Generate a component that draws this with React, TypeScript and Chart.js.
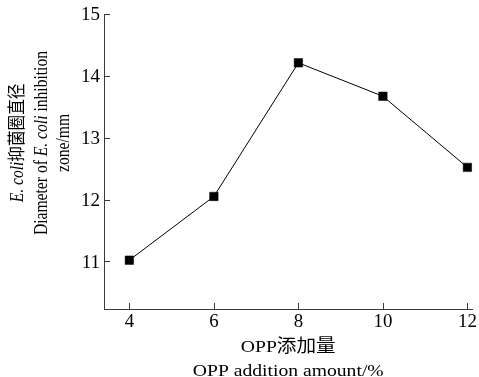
import React, { useEffect, useRef } from "react";
import { Chart, registerables } from "chart.js";

Chart.register(...registerables);

const additionAmounts = [4, 6, 8, 10, 12];
const inhibitionDiameters = [11.02, 12.05, 14.21, 13.67, 12.52];
const xTickValues = [4, 6, 8, 10, 12];
const yTickValues = [11, 12, 13, 14, 15];

const xTitleLines = ["OPP添加量", "OPP addition amount/%"];
type Seg = { t: string; i?: boolean };
const yTitleLines: Seg[][] = [
  [{ t: "E. coli", i: true }, { t: "抑菌圈直径" }],
  [{ t: "Diameter of " }, { t: "E. coli", i: true }, { t: " inhibition" }],
  [{ t: "zone/mm" }],
];

const FAM = '"Liberation Serif", "Noto Sans CJK SC", serif';
const AXIS_COLOR = "#3a3a3a";

function drawStretched(
  ctx: CanvasRenderingContext2D,
  text: string,
  x: number,
  y: number,
  font: string,
  align: CanvasTextAlign,
  sx: number
) {
  ctx.save();
  ctx.font = font;
  ctx.textAlign = align;
  ctx.textBaseline = "alphabetic";
  ctx.translate(x, y);
  ctx.scale(sx, 1);
  ctx.fillText(text, 0, 0);
  ctx.restore();
}

const customPlugin = {
  id: "customAxes",
  afterDraw(chart: any) {
    const ctx = chart.ctx as CanvasRenderingContext2D;
    const area = chart.chartArea;
    const xs = chart.scales.x;
    const ys = chart.scales.y;
    ctx.save();
    // inward ticks
    ctx.strokeStyle = AXIS_COLOR;
    ctx.lineWidth = 1;
    ctx.beginPath();
    xTickValues.forEach((v) => {
      const px = Math.round(xs.getPixelForValue(v)) + 0.5;
      ctx.moveTo(px, area.bottom);
      ctx.lineTo(px, area.bottom - 6);
    });
    yTickValues.forEach((v) => {
      const py = Math.round(ys.getPixelForValue(v)) + 0.5;
      ctx.moveTo(area.left, py);
      ctx.lineTo(area.left + 6, py);
    });
    ctx.stroke();

    ctx.fillStyle = "#000";

    // x tick labels
    xTickValues.forEach((v) => {
      drawStretched(ctx, String(v), xs.getPixelForValue(v), 327, `18px ${FAM}`, "center", 1.05);
    });
    // y tick labels
    yTickValues.forEach((v) => {
      drawStretched(ctx, String(v), area.left - 4, ys.getPixelForValue(v) + 6.3, `19px ${FAM}`, "right", 1.0);
    });

    // x title
    const cx = (area.left + area.right) / 2;
    drawStretched(ctx, xTitleLines[0], cx, 352, `17.7px ${FAM}`, "center", 1.11);
    drawStretched(ctx, xTitleLines[1], cx, 375.5, `17.7px ${FAM}`, "center", 1.11);

    // y title (rotated)
    const baselines = [22.5, 46.5, 68.5];
    const cy = 143;
    const ySx = 1.15;
    yTitleLines.forEach((segs, idx) => {
      const fontOf = (s: Seg) => `${s.i ? "italic " : ""}15.6px ${FAM}`;
      let total = 0;
      segs.forEach((s) => {
        ctx.font = fontOf(s);
        total += ctx.measureText(s.t).width;
      });
      ctx.save();
      ctx.translate(baselines[idx], cy);
      ctx.rotate(-Math.PI / 2);
      ctx.scale(1, ySx);
      ctx.textAlign = "left";
      ctx.textBaseline = "alphabetic";
      let u = -total / 2;
      segs.forEach((s) => {
        ctx.font = fontOf(s);
        ctx.fillText(s.t, u, 0);
        u += ctx.measureText(s.t).width;
      });
      ctx.restore();
    });
    ctx.restore();
  },
};

export default function App() {
  const canvasRef = useRef<HTMLCanvasElement | null>(null);

  useEffect(() => {
    const canvas = canvasRef.current;
    if (!canvas) return;
    const chart = new Chart(canvas, {
      type: "line",
      data: {
        datasets: [
          {
            data: additionAmounts.map((x, i) => ({ x, y: inhibitionDiameters[i] })),
            borderColor: "#000",
            borderWidth: 1,
            backgroundColor: "#000",
            pointStyle: "rect",
            pointRadius: 6,
            pointBorderWidth: 0.5,
            pointBackgroundColor: "#000",
            pointBorderColor: "#000",
            tension: 0,
          },
        ],
      },
      options: {
        responsive: false,
        animation: false,
        events: [],
        layout: { padding: { top: 14, right: 5, left: 0, bottom: 0 } },
        plugins: {
          legend: { display: false },
          tooltip: { enabled: false },
          title: { display: false },
        },
        scales: {
          x: {
            type: "linear",
            min: 3.4,
            max: 12.12,
            afterBuildTicks: (scale: any) => {
              scale.ticks = xTickValues.map((v) => ({ value: v }));
            },
            afterFit: (scale: any) => {
              scale.height = 68;
            },
            grid: { display: false, drawTicks: false },
            border: { display: true, color: AXIS_COLOR, width: 1 },
            ticks: { display: false },
          },
          y: {
            type: "linear",
            min: 10.23,
            max: 15,
            afterBuildTicks: (scale: any) => {
              scale.ticks = yTickValues.map((v) => ({ value: v }));
            },
            afterFit: (scale: any) => {
              scale.width = 104;
            },
            grid: { display: false, drawTicks: false },
            border: { display: true, color: AXIS_COLOR, width: 1 },
            ticks: { display: false },
          },
        },
      },
      plugins: [customPlugin],
    });
    return () => chart.destroy();
  }, []);

  return (
    <div
      style={{
        position: "fixed",
        left: 0,
        top: 0,
        width: 479,
        height: 377,
        background: "#fff",
      }}
    >
      <canvas ref={canvasRef} width={479} height={377} style={{ display: "block" }} />
    </div>
  );
}
